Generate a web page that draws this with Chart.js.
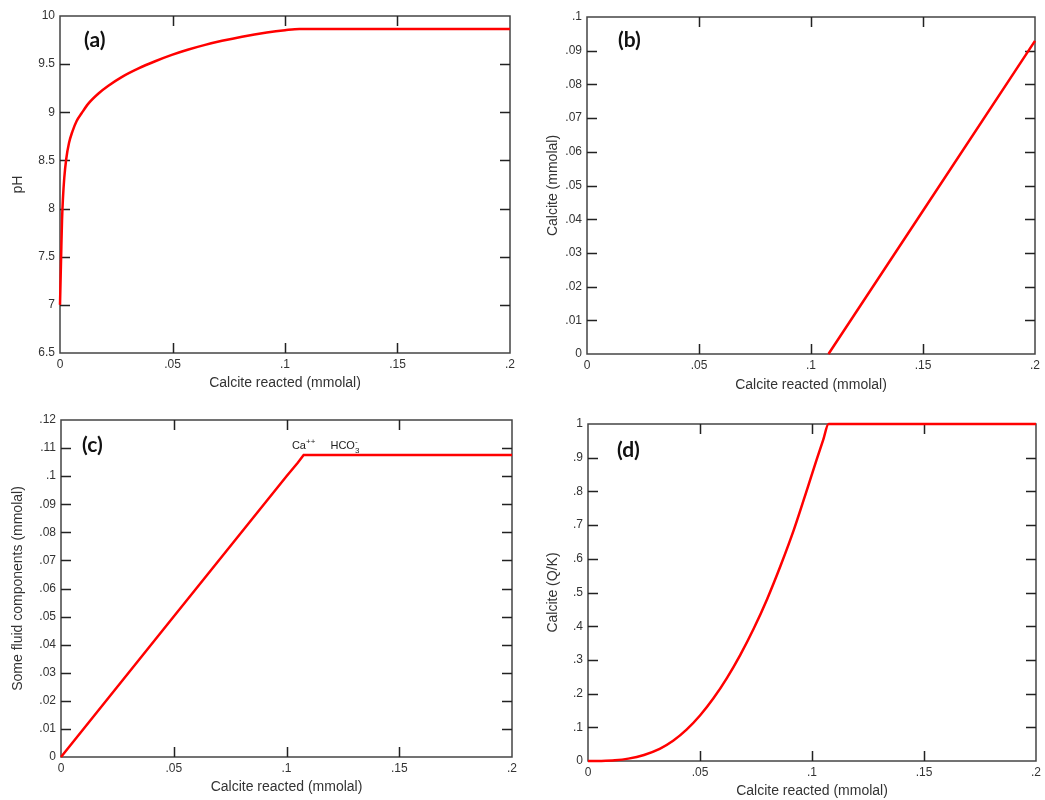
<!DOCTYPE html>
<html>
<head>
<meta charset="utf-8">
<script src="https://cdn.jsdelivr.net/npm/chart.js@4.4.1/dist/chart.umd.min.js"></script>
<style>
  html, body { margin: 0; padding: 0; background: #fff; }
  #wrap { position: relative; width: 1045px; height: 800px; }
  #wrap canvas { position: absolute; }
</style>
</head>
<body>
<div id="wrap">
  <canvas id="chartA" width="522" height="400" style="left:0;top:0"></canvas>
  <canvas id="chartB" width="523" height="400" style="left:522px;top:0"></canvas>
  <canvas id="chartC" width="522" height="400" style="left:0;top:400px"></canvas>
  <canvas id="chartD" width="523" height="400" style="left:522px;top:400px"></canvas>
</div>
<script>
// (a) pH vs calcite reacted
const reactedA = [0, 0.0003, 0.0006, 0.0009, 0.0013, 0.0019, 0.0028, 0.004, 0.0055, 0.0074, 0.0096,
  0.0126, 0.0171, 0.0215, 0.0274, 0.0349, 0.0423, 0.0497, 0.0571, 0.0645, 0.072, 0.0809, 0.0919, 0.1, 0.1064, 0.2];
const pHValues = [7.0, 7.30, 7.60, 7.88, 8.10, 8.32, 8.52, 8.68, 8.80, 8.91, 8.99,
  9.09, 9.195, 9.275, 9.365, 9.455, 9.53, 9.596, 9.652, 9.70, 9.742, 9.785, 9.828, 9.852, 9.865, 9.865];

// (b) calcite precipitated
const reactedB = [0.1078, 0.15, 0.2];
const calciteMmolal = [0, 0.0425, 0.0929];

// (c) Ca++ / HCO3- concentration
const reactedC = [0, 0.05, 0.1, 0.105, 0.1076, 0.2];
const fluidMmolal = [0, 0.05, 0.1, 0.1048, 0.1075, 0.1075];

// (d) calcite saturation Q/K
const reactedD = [0, 0.006, 0.012, 0.018, 0.025, 0.032, 0.038, 0.044, 0.05, 0.056, 0.062, 0.068,
  0.074, 0.08, 0.086, 0.092, 0.098, 0.102, 0.105, 0.1074, 0.2];
const calciteQK = [0, 0.0003, 0.002, 0.007, 0.018, 0.036, 0.06, 0.093, 0.135, 0.186, 0.246, 0.315,
  0.393, 0.481, 0.58, 0.688, 0.81, 0.893, 0.953, 1.0, 1.0];

const xTicks = { min: 0, max: 0.2, step: 0.05 };

const FONT = "'Liberation Sans', Arial, sans-serif";
const TEXT = "#333";

function fmt(v) {
  const r = Math.round(v * 10000) / 10000;
  return String(r).replace(/^0\./, ".");
}

// frame around the plot with inward ticks on every side
const framePlugin = {
  id: "frame",
  beforeDatasetsDraw(chart) {
    const { ctx, chartArea: a, scales } = chart;
    const len = 10;
    ctx.save();
    ctx.strokeStyle = "#444";
    ctx.lineWidth = 1.5;
    ctx.strokeRect(a.left, a.top, a.right - a.left, a.bottom - a.top);
    ctx.strokeStyle = "#222";
    ctx.beginPath();
    scales.x.ticks.forEach((t) => {
      const px = Math.round(scales.x.getPixelForValue(t.value)) + 0.5;
      if (px - a.left < 2 || a.right - px < 2) return;
      ctx.moveTo(px, a.bottom); ctx.lineTo(px, a.bottom - len);
      ctx.moveTo(px, a.top); ctx.lineTo(px, a.top + len);
    });
    scales.y.ticks.forEach((t) => {
      const py = Math.round(scales.y.getPixelForValue(t.value)) + 0.5;
      if (py - a.top < 2 || a.bottom - py < 2) return;
      ctx.moveTo(a.left, py); ctx.lineTo(a.left + len, py);
      ctx.moveTo(a.right, py); ctx.lineTo(a.right - len, py);
    });
    ctx.stroke();
    ctx.restore();
  },
};

// panel tag "(a)" etc and the species labels in (c)
const notesPlugin = {
  id: "notes",
  afterDraw(chart, args, opts) {
    const { ctx, chartArea: a, scales } = chart;
    ctx.save();
    if (opts.tag) {
      ctx.fillStyle = "#111";
      ctx.font = "bold 21px Lato, 'Open Sans', sans-serif";
      ctx.textBaseline = "middle";
      ctx.fillText(opts.tag, a.left + opts.dx, a.top + opts.dy);
    }
    if (opts.species) {
      ctx.fillStyle = "#222";
      ctx.textBaseline = "alphabetic";
      opts.species.forEach((s) => {
        let x = scales.x.getPixelForValue(s.x);
        const y = scales.y.getPixelForValue(s.y);
        ctx.font = "11px " + FONT;
        ctx.fillText(s.base, x, y);
        x += ctx.measureText(s.base).width;
        ctx.font = "8px " + FONT;
        if (s.sub) ctx.fillText(s.sub, x, y + 4);
        if (s.sup) ctx.fillText(s.sup, x, y - 5);
      });
    }
    ctx.restore();
  },
};

function makePanel(id, opt) {
  const ctx = document.getElementById(id).getContext("2d");
  const points = opt.xs.map((x, i) => ({ x: x, y: opt.ys[i] }));
  new Chart(ctx, {
    type: "line",
    data: {
      datasets: [
        {
          data: points,
          borderColor: "#ff0000",
          borderWidth: 2.5,
          pointRadius: 0,
          fill: false,
          clip: false,
          cubicInterpolationMode: opt.smooth ? "monotone" : "default",
        },
      ],
    },
    plugins: [framePlugin, notesPlugin],
    options: {
      responsive: false,
      animation: false,
      devicePixelRatio: 1,
      layout: { padding: { left: 0, top: opt.area.t, right: opt.w - opt.area.r, bottom: 0 } },
      plugins: {
        legend: { display: false },
        tooltip: { enabled: false },
        notes: { tag: opt.tag, dx: opt.tagDx, dy: opt.tagDy, species: opt.species },
      },
      scales: {
        x: {
          type: "linear",
          min: xTicks.min,
          max: xTicks.max,
          grid: { display: false, drawTicks: false },
          border: { display: false },
          ticks: { stepSize: xTicks.step, padding: 4, color: TEXT, font: { family: FONT, size: 12 }, callback: fmt, maxRotation: 0 },
          title: { display: true, text: "Calcite reacted (mmolal)", color: TEXT, font: { family: FONT, size: 14 }, padding: { top: 0, bottom: opt.xTitlePad } },
          afterFit: (s) => { s.height = 400 - opt.area.b; },
        },
        y: {
          min: opt.yMin,
          max: opt.yMax,
          grid: { display: false, drawTicks: false },
          border: { display: false },
          ticks: { stepSize: opt.yStep, padding: 5, color: TEXT, font: { family: FONT, size: 12 }, callback: fmt },
          title: { display: true, text: opt.yTitle, color: TEXT, font: { family: FONT, size: 14 }, padding: { top: opt.yTitlePad, bottom: 0 } },
          afterFit: (s) => { s.width = opt.area.l; },
        },
      },
    },
  });
}

makePanel("chartA", {
  w: 522, area: { l: 60, t: 16, r: 510, b: 353 },
  xs: reactedA, ys: pHValues, smooth: true,
  yMin: 6.5, yMax: 10, yStep: 0.5, yTitle: "pH", yTitlePad: 10, xTitlePad: 8,
  tag: "(a)", tagDx: 24, tagDy: 24,
});

makePanel("chartB", {
  w: 523, area: { l: 65, t: 17, r: 513, b: 354 },
  xs: reactedB, ys: calciteMmolal, smooth: false,
  yMin: 0, yMax: 0.1, yStep: 0.01, yTitle: "Calcite (mmolal)", yTitlePad: 23, xTitlePad: 6,
  tag: "(b)", tagDx: 31, tagDy: 23,
});

makePanel("chartC", {
  w: 522, area: { l: 61, t: 20, r: 512, b: 357 },
  xs: reactedC, ys: fluidMmolal, smooth: false,
  yMin: 0, yMax: 0.12, yStep: 0.01, yTitle: "Some fluid components (mmolal)", yTitlePad: 10, xTitlePad: 4,
  tag: "(c)", tagDx: 21, tagDy: 25,
  species: [
    { base: "Ca", sup: "++", x: 0.1024, y: 0.1097 },
    { base: "HCO", sub: "3", sup: "-", x: 0.1195, y: 0.1097 },
  ],
});

makePanel("chartD", {
  w: 523, area: { l: 66, t: 24, r: 514, b: 361 },
  xs: reactedD, ys: calciteQK, smooth: true,
  yMin: 0, yMax: 1, yStep: 0.1, yTitle: "Calcite (Q/K)", yTitlePad: 23, xTitlePad: 0,
  tag: "(d)", tagDx: 29, tagDy: 26,
});
</script>
</body>
</html>
